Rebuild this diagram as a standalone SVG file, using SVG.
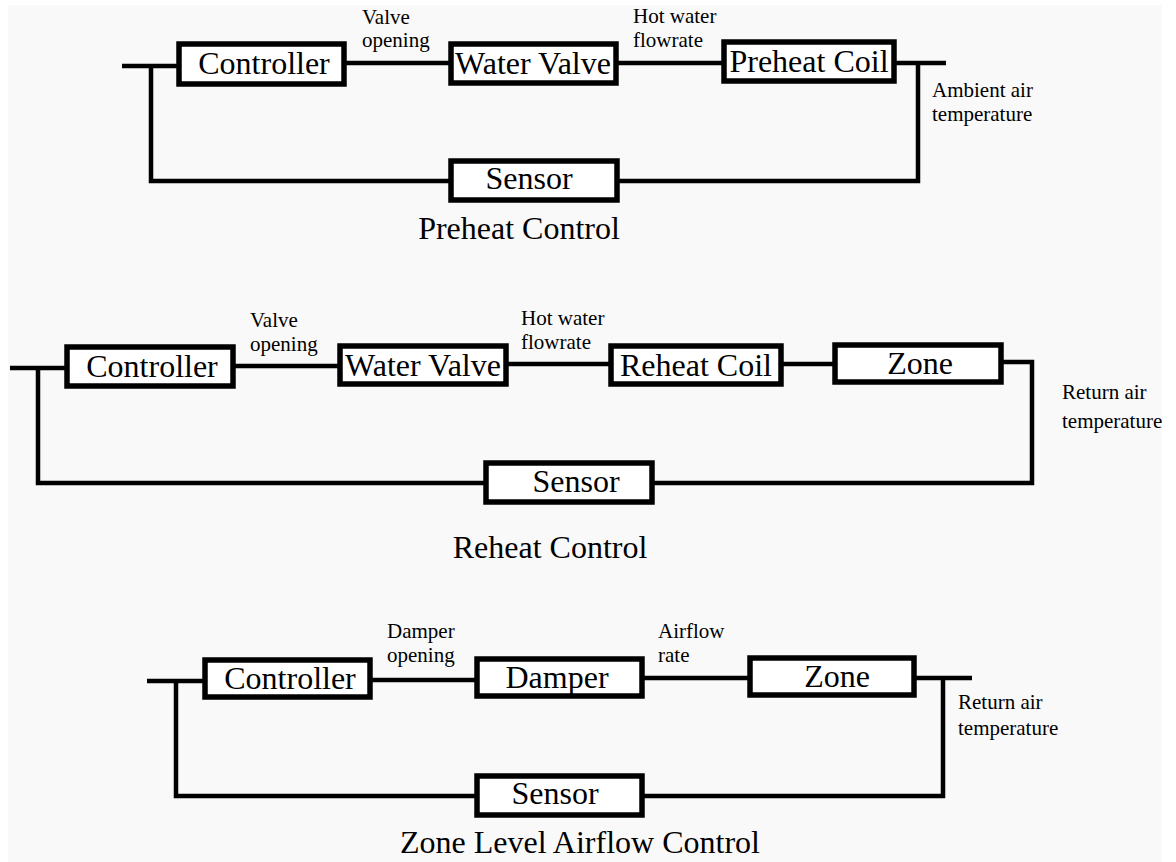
<svg xmlns="http://www.w3.org/2000/svg" width="1176" height="862" viewBox="0 0 1176 862">
<style>
.box{fill:#ffffff;stroke:#000;stroke-width:5.5}
.ln{fill:none;stroke:#000;stroke-width:4.5;stroke-linecap:butt;stroke-linejoin:miter}
.big{font-family:"Liberation Serif","Times New Roman",serif;font-size:32px;fill:#000;text-anchor:middle}
.sm{font-family:"Liberation Serif","Times New Roman",serif;font-size:21px;fill:#000}
</style>
<rect x="0" y="0" width="1176" height="862" fill="#ffffff"/>
<rect x="8" y="5" width="1154" height="857" fill="#f9f9f9"/>

<g id="connectors">
  <!-- Preheat -->
  <path class="ln" d="M122,66 H178"/>
  <path class="ln" d="M151,66 V181 H450"/>
  <path class="ln" d="M345,63 H450"/>
  <path class="ln" d="M617,63 H723"/>
  <path class="ln" d="M895,63 H946"/>
  <path class="ln" d="M918,63 V181 H618"/>
  <!-- Reheat -->
  <path class="ln" d="M10,368 H66"/>
  <path class="ln" d="M38,368 V483 H485"/>
  <path class="ln" d="M234,366 H339"/>
  <path class="ln" d="M507,364 H610"/>
  <path class="ln" d="M782,364 H834"/>
  <path class="ln" d="M1002,362 H1032 V483 H653"/>
  <!-- Zone airflow -->
  <path class="ln" d="M147,681 H204"/>
  <path class="ln" d="M176,681 V796 H476"/>
  <path class="ln" d="M371,680 H476"/>
  <path class="ln" d="M643,678 H749"/>
  <path class="ln" d="M915,678 H972"/>
  <path class="ln" d="M943,678 V796 H643"/>
</g>

<g id="labels">
  <text class="sm" x="362" y="24">Valve</text>
  <text class="sm" x="362" y="47">opening</text>
  <text class="sm" x="633" y="23">Hot water</text>
  <text class="sm" x="633" y="47">flowrate</text>
  <text class="sm" x="932" y="97">Ambient air</text>
  <text class="sm" x="932" y="121">temperature</text>

  <text class="sm" x="250" y="327">Valve</text>
  <text class="sm" x="250" y="351">opening</text>
  <text class="sm" x="521" y="325">Hot water</text>
  <text class="sm" x="521" y="349">flowrate</text>
  <text class="sm" x="1062" y="399">Return air</text>
  <text class="sm" x="1062" y="428">temperature</text>

  <text class="sm" x="387" y="638">Damper</text>
  <text class="sm" x="387" y="662">opening</text>
  <text class="sm" x="658" y="638">Airflow</text>
  <text class="sm" x="658" y="662">rate</text>
  <text class="sm" x="958" y="709">Return air</text>
  <text class="sm" x="958" y="735">temperature</text>
</g>

<g id="pre-controller"><rect class="box" x="179" y="44" width="165" height="40"/><text class="big" x="264" y="74">Controller</text></g>
<g id="pre-valve"><rect class="box" x="451" y="44" width="165" height="39"/><text class="big" x="533" y="74">Water Valve</text></g>
<g id="pre-coil"><rect class="box" x="724" y="42" width="170" height="39"/><text class="big" x="809" y="72">Preheat Coil</text></g>
<g id="pre-sensor"><rect class="box" x="451" y="161" width="166" height="39"/><text class="big" x="529" y="189">Sensor</text></g>
<g id="pre-title"><text class="big" x="519" y="239">Preheat Control</text></g>

<g id="re-controller"><rect class="box" x="67" y="347" width="166" height="39"/><text class="big" x="152" y="377">Controller</text></g>
<g id="re-valve"><rect class="box" x="340" y="346" width="166" height="38"/><text class="big" x="423" y="376">Water Valve</text></g>
<g id="re-coil"><rect class="box" x="611" y="346" width="170" height="38"/><text class="big" x="696" y="376">Reheat Coil</text></g>
<g id="re-zone"><rect class="box" x="835" y="345" width="166" height="37"/><text class="big" x="920" y="374">Zone</text></g>
<g id="re-sensor"><rect class="box" x="486" y="463" width="166" height="39"/><text class="big" x="576" y="492">Sensor</text></g>
<g id="re-title"><text class="big" x="550" y="558">Reheat Control</text></g>

<g id="za-controller"><rect class="box" x="205" y="660" width="165" height="37"/><text class="big" x="290" y="689">Controller</text></g>
<g id="za-damper"><rect class="box" x="477" y="659" width="165" height="37"/><text class="big" x="557" y="688">Damper</text></g>
<g id="za-zone"><rect class="box" x="750" y="658" width="164" height="37"/><text class="big" x="837" y="687">Zone</text></g>
<g id="za-sensor"><rect class="box" x="477" y="776" width="165" height="39"/><text class="big" x="555" y="804">Sensor</text></g>
<g id="za-title"><text class="big" x="580" y="853">Zone Level Airflow Control</text></g>
</svg>
